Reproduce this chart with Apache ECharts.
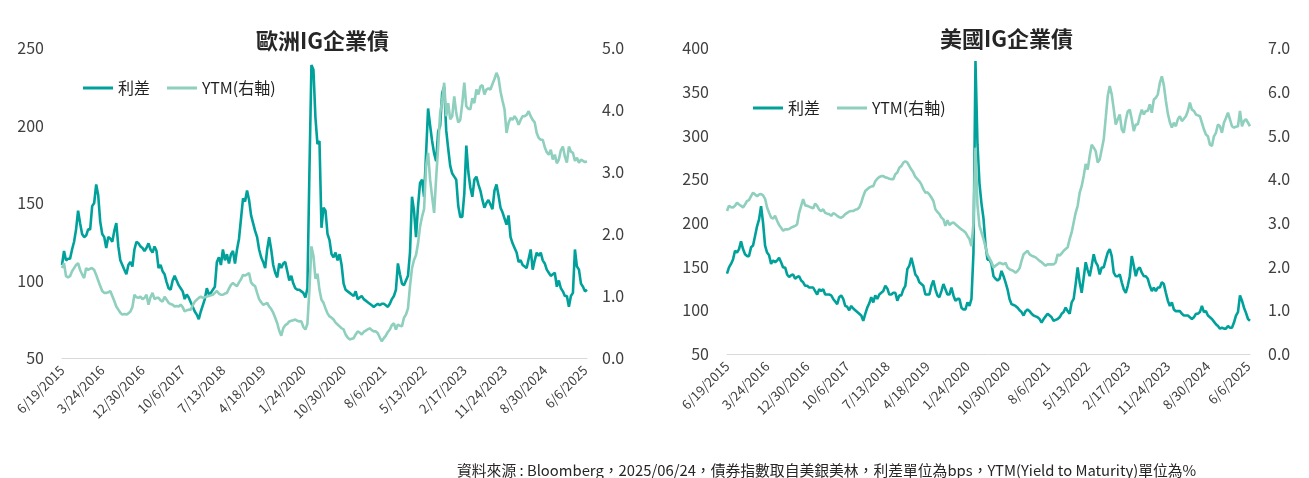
<!DOCTYPE html>
<html lang="zh-Hant">
<head>
<meta charset="UTF-8">
<title>IG企業債</title>
<script src="https://cdn.jsdelivr.net/npm/echarts@6.0.0/dist/echarts.min.js"></script>
<style>
html, body { margin: 0; padding: 0; background: #fff; }
#main { width: 1309px; height: 478px; }
</style>
</head>
<body>
<div id="main"></div>
<script>
// x ticks every 40 weeks (data is biweekly, so every 20 points)
const tickLabels = ['6/19/2015', '3/24/2016', '12/30/2016', '10/6/2017', '7/13/2018', '4/18/2019', '1/24/2020',
  '10/30/2020', '8/6/2021', '5/13/2022', '2/17/2023', '11/24/2023', '8/30/2024', '6/6/2025'];

// 歐洲IG 利差 (bps)
const euSpread = [
  110,119,113,114,114,120,125,133,145,137,130,128,129,133,133,148,150,162,155,138,
  130,128,121,128,127,125,132,137,122,113,110,107,104,110,112,109,120,125,124,122,
  121,119,121,124,120,118,122,119,108,110,106,104,99,95,94,100,103,100,97,95,
  93,88,91,89,86,83,80,78,75,80,84,88,95,91,92,94,96,112,115,110,
  120,113,117,111,117,119,111,120,127,140,153,151,158,152,142,137,132,128,120,115,
  112,108,120,128,120,110,105,102,111,108,111,112,106,100,103,98,95,94,94,93,
  92,89,95,170,239,236,205,188,190,134,147,145,130,126,117,115,118,113,117,110,
  98,94,93,92,91,90,93,88,89,90,88,87,86,85,84,83,84,85,84,85,
  85,84,83,85,88,90,94,111,104,98,97,100,103,118,154,145,128,148,163,165,
  154,182,211,200,190,182,177,196,200,221,225,197,185,174,169,167,165,148,141,141,
  156,187,170,160,154,165,167,162,158,152,147,150,152,149,146,158,162,155,147,144,
  140,136,142,128,124,121,118,112,113,110,109,108,114,120,107,113,118,116,118,113,
  111,107,105,103,104,105,96,100,95,93,90,90,83,90,92,120,109,107,98,96,93,94
];

// 歐洲IG YTM (%)
const euYtm = [
  1.45,1.53,1.32,1.30,1.32,1.40,1.45,1.50,1.53,1.42,1.35,1.29,1.45,1.42,1.44,1.45,1.42,1.34,1.25,1.16,
  1.08,1.05,1.05,1.06,1.08,1.00,0.92,0.83,0.78,0.73,0.70,0.71,0.70,0.72,0.75,0.82,1.02,0.98,0.97,0.99,
  0.95,0.97,1.02,0.86,0.98,1.05,0.95,0.97,0.97,0.93,0.91,0.99,0.94,0.89,0.87,0.86,0.83,0.84,0.83,0.86,
  0.82,0.75,0.77,0.78,0.78,0.85,0.91,0.94,0.97,0.99,0.97,0.98,0.99,1.00,1.01,1.02,1.05,1.08,1.04,1.02,
  1.02,1.04,1.05,1.12,1.18,1.21,1.18,1.16,1.22,1.27,1.34,1.33,1.35,1.37,1.22,1.18,1.16,1.05,0.95,0.90,
  0.86,0.87,0.89,0.83,0.79,0.73,0.65,0.56,0.44,0.36,0.48,0.53,0.55,0.59,0.60,0.61,0.62,0.60,0.59,0.59,
  0.50,0.46,0.55,1.10,1.80,1.65,1.28,1.36,1.10,0.94,0.89,0.80,0.72,0.67,0.65,0.62,0.57,0.54,0.51,0.48,
  0.46,0.38,0.33,0.30,0.31,0.32,0.38,0.43,0.41,0.38,0.42,0.44,0.46,0.48,0.45,0.43,0.43,0.40,0.33,0.27,
  0.32,0.36,0.42,0.46,0.53,0.56,0.46,0.54,0.52,0.51,0.65,0.70,0.80,1.16,1.45,1.58,1.66,1.85,2.12,2.28,
  2.40,3.10,3.31,2.88,2.60,2.34,2.90,3.40,3.95,4.15,4.44,3.90,4.11,3.85,3.90,4.22,3.95,3.80,3.84,4.11,
  4.44,4.06,4.02,4.01,4.19,4.11,4.33,4.25,4.38,4.40,4.25,4.33,4.35,4.33,4.42,4.50,4.60,4.52,4.30,4.15,
  4.01,3.63,3.79,3.87,3.84,3.90,3.85,3.76,3.84,3.90,3.90,3.92,3.98,3.90,3.84,3.80,3.63,3.55,3.52,3.52,
  3.40,3.32,3.28,3.36,3.20,3.28,3.14,3.20,3.35,3.41,3.25,3.15,3.41,3.33,3.31,3.18,3.23,3.15,3.20,3.18,3.16,3.17
];

// 美國IG 利差 (bps)
const usSpread = [
  142,149,153,158,168,166,170,179,170,164,162,162,172,174,185,196,204,219,200,174,
  166,163,153,157,155,157,160,155,149,149,141,138,140,141,136,138,139,134,132,128,
  128,126,126,126,122,118,124,122,124,118,118,118,117,113,110,107,115,117,113,105,
  104,100,105,102,100,98,96,94,88,96,103,108,115,109,117,113,118,120,122,128,
  125,118,118,120,120,111,117,117,124,128,147,151,160,151,141,138,132,130,128,118,
  118,118,128,134,124,117,115,122,130,124,118,118,126,117,111,113,113,103,101,101,
  109,105,113,166,385,290,245,222,205,175,158,158,153,139,136,134,136,145,139,132,
  124,113,107,106,105,103,100,98,94,99,101,99,96,94,93,92,90,86,90,93,
  96,94,92,88,89,90,92,96,98,103,99,96,109,113,130,149,132,120,137,155,
  146,139,151,164,155,151,141,149,149,158,166,170,162,143,139,139,141,132,124,120,
  128,139,162,151,139,147,149,143,139,139,136,128,122,126,122,126,126,132,130,120,
  111,105,109,101,99,99,99,96,94,94,94,92,90,92,96,96,98,105,98,99,
  94,92,90,87,84,82,79,80,79,79,82,80,80,86,94,98,117,111,103,97,90,88
];

// 美國IG YTM (%)
const usYtm = [
  3.27,3.39,3.36,3.35,3.39,3.46,3.42,3.39,3.35,3.42,3.50,3.52,3.61,3.69,3.65,3.61,3.65,3.66,3.63,3.55,
  3.35,3.23,3.12,3.10,3.16,3.05,2.95,2.89,2.82,2.85,2.85,2.86,2.89,2.91,2.93,2.97,3.23,3.39,3.54,3.40,
  3.39,3.37,3.35,3.33,3.44,3.39,3.30,3.27,3.31,3.23,3.21,3.20,3.16,3.22,3.20,3.16,3.13,3.12,3.15,3.20,
  3.23,3.26,3.27,3.27,3.30,3.31,3.35,3.46,3.61,3.73,3.77,3.81,3.83,3.84,3.95,4.01,4.05,4.07,4.07,4.04,
  4.03,4.01,4.00,4.00,4.11,4.15,4.26,4.30,4.38,4.41,4.38,4.30,4.22,4.15,4.05,4.00,3.95,3.88,3.77,3.69,
  3.70,3.65,3.58,3.50,3.31,3.25,3.20,3.12,3.08,2.93,3.06,2.95,2.99,3.01,2.97,2.93,2.89,2.85,2.82,2.78,
  2.70,2.63,2.47,3.00,4.72,3.40,2.93,2.78,2.63,2.45,2.27,2.19,2.10,1.98,2.02,2.05,2.09,2.07,2.05,2.09,
  1.98,1.94,1.92,1.90,1.86,1.90,1.96,2.13,2.28,2.32,2.36,2.28,2.25,2.23,2.21,2.17,2.13,2.10,2.06,2.02,
  2.05,2.05,2.05,2.05,2.09,2.28,2.25,2.30,2.36,2.40,2.44,2.63,2.78,3.01,3.23,3.39,3.69,3.84,4.07,4.35,
  4.22,4.53,4.79,4.72,4.64,4.38,4.45,4.68,4.91,5.40,5.90,6.13,5.94,5.60,5.25,5.37,5.48,5.14,5.06,5.35,
  5.55,5.59,5.37,5.10,5.25,5.25,5.44,5.59,5.48,5.56,5.56,5.71,5.52,5.82,5.86,5.94,6.20,6.35,6.15,5.80,
  5.50,5.30,5.18,5.29,5.21,5.37,5.44,5.33,5.38,5.44,5.56,5.75,5.59,5.56,5.48,5.46,5.44,5.29,5.14,5.02,
  4.98,4.79,4.76,4.98,5.06,5.25,5.21,5.06,5.29,5.40,5.52,5.37,5.21,5.18,5.20,5.21,5.56,5.21,5.33,5.37,5.29,5.21
];

// biweekly dates from 6/19/2015, tick positions use the labels above
const dates = [];
for (let i = 0; i < euSpread.length; i++) {
  if (i % 20 === 0 && tickLabels[i / 20]) {
    dates.push(tickLabels[i / 20]);
  } else {
    const d = new Date(2015, 5, 19 + i * 14);
    dates.push((d.getMonth() + 1) + '/' + d.getDate() + '/' + d.getFullYear());
  }
}

const DARK = '#00a19b';
const LIGHT = '#8ecfbd';
const FONT = "'Noto Sans CJK TC', 'Noto Sans', sans-serif";

function xAxisOf(grid) {
  return {
    type: 'category', gridIndex: grid, data: dates, boundaryGap: false,
    axisLine: { lineStyle: { color: '#d9d9d9', width: 1 } },
    axisTick: { show: false },
    axisLabel: {
      interval: function (idx) { return idx % 20 === 0; },
      rotate: 45, fontSize: 13, color: '#404040', margin: 10, fontFamily: FONT
    },
    splitLine: { show: false }
  };
}

function yAxisOf(grid, pos, min, max, step, digits, margin) {
  return {
    type: 'value', gridIndex: grid, position: pos, min: min, max: max, interval: step,
    axisLine: { show: false }, axisTick: { show: false }, splitLine: { show: false },
    axisLabel: {
      fontSize: 16, color: '#404040', margin: margin, fontFamily: FONT,
      formatter: function (v) { return v.toFixed(digits); }
    }
  };
}

function lineOf(name, x, y, data, color) {
  return {
    name: name, type: 'line', xAxisIndex: x, yAxisIndex: y, data: data,
    showSymbol: false, symbol: 'none', animation: false,
    lineStyle: { color: color, width: 2.6 }, itemStyle: { color: color }
  };
}

const legendBase = {
  data: ['利差', 'YTM(右軸)'], icon: 'rect', itemWidth: 30, itemHeight: 3, itemGap: 17,
  textStyle: { fontSize: 16, color: '#1f1f1f', fontFamily: FONT }
};

const chart = echarts.init(document.getElementById('main'));
chart.setOption({
  backgroundColor: '#fff',
  textStyle: { fontFamily: FONT },
  title: [
    { text: '歐洲IG企業債', left: 251, top: 25, textStyle: { fontSize: 22, fontWeight: 'bold', color: '#262626', fontFamily: FONT } },
    { text: '美國IG企業債', left: 935, top: 23, textStyle: { fontSize: 22, fontWeight: 'bold', color: '#262626', fontFamily: FONT } },
    { text: '資料來源 : Bloomberg，2025/06/24，債券指數取自美銀美林，利差單位為bps，YTM(Yield to Maturity)單位為%',
      left: 452, top: 458, textStyle: { fontSize: 14.8, fontWeight: 'normal', color: '#262626', fontFamily: FONT } }
  ],
  legend: [
    Object.assign({ left: 78, top: 75 }, legendBase),
    Object.assign({ left: 748, top: 95 }, legendBase)
  ],
  grid: [
    { left: 62, top: 48, width: 525, height: 310 },
    { left: 727, top: 48, width: 523, height: 306 }
  ],
  xAxis: [xAxisOf(0), xAxisOf(1)],
  yAxis: [
    yAxisOf(0, 'left', 50, 250, 50, 0, 18),
    yAxisOf(0, 'right', 0, 5, 1, 1, 15),
    yAxisOf(1, 'left', 50, 400, 50, 0, 18),
    yAxisOf(1, 'right', 0, 7, 1, 1, 18)
  ],
  series: [
    lineOf('利差', 0, 0, euSpread, DARK),
    lineOf('YTM(右軸)', 0, 1, euYtm, LIGHT),
    lineOf('利差', 1, 2, usSpread, DARK),
    lineOf('YTM(右軸)', 1, 3, usYtm, LIGHT)
  ]
});
</script>
</body>
</html>
